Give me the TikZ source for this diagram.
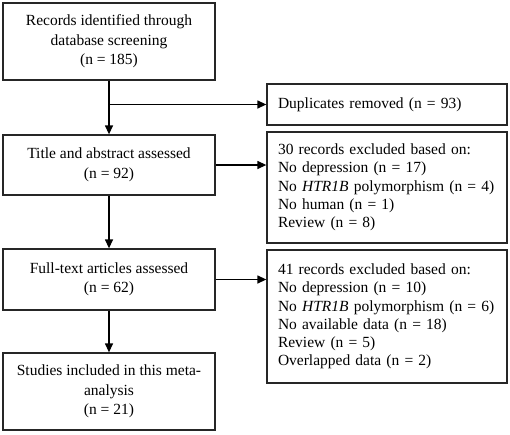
\documentclass[tikz,border=0pt]{standalone}
\usepackage{fontspec}
\setmainfont{Liberation Serif}
\usetikzlibrary{arrows.meta}
\begin{document}
\begin{tikzpicture}[x=1pt,y=-1pt,
  box/.style={draw=black!85,line width=1.3pt,fill=white,font=\fontsize{15.5}{19.5}\selectfont},
  lbox/.style={box,align=center,minimum width=212pt,inner sep=2pt},
  rbox/.style={box,align=left,text width=218pt,inner xsep=11pt,inner ysep=2pt,font=\fontsize{15.5}{18.3}\selectfont},
  arr/.style={line width=1.3pt,-{Triangle[length=9pt,width=8pt]}}]
\useasboundingbox (0,0) rectangle (510,434);
\node[lbox,minimum height=77pt] (b1) at (109,41.5) {Records identified through\\database screening\\(n = 185)};
\node[lbox,minimum height=60pt] (b2) at (109,165) {Title and abstract assessed\\(n = 92)};
\node[lbox,minimum height=61pt] (b3) at (109,279.5) {Full-text articles assessed\\(n = 62)};
\node[lbox,minimum height=77pt] (b4) at (109,391.5) {Studies included in this meta-\\analysis\\(n = 21)};
\node[rbox,minimum height=41pt] (dup) at (387,104.5) {Duplicates removed (n = 93)};
\node[rbox,minimum height=111pt] (r30) at (387,187.5) {30 records excluded based on:\\No depression (n = 17)\\No \textit{HTR1B} polymorphism (n = 4)\\No human (n = 1)\\Review (n = 8)};
\node[rbox,minimum height=133pt] (r41) at (387,316.5) {41 records excluded based on:\\No depression (n = 10)\\No \textit{HTR1B} polymorphism (n = 6)\\No available data (n = 18)\\Review (n = 5)\\Overlapped data (n = 2)};
\draw[arr] (b1) -- (b2);
\draw[arr] (b1.south |- dup.west) -- (dup.west);
\draw[arr] (b2) -- (b3);
\draw[arr] (b3) -- (b4);
\draw[arr] (b2.east) -- (b2.east -| r30.west);
\draw[arr] (b3.east) -- (b3.east -| r41.west);
\end{tikzpicture}
\end{document}
